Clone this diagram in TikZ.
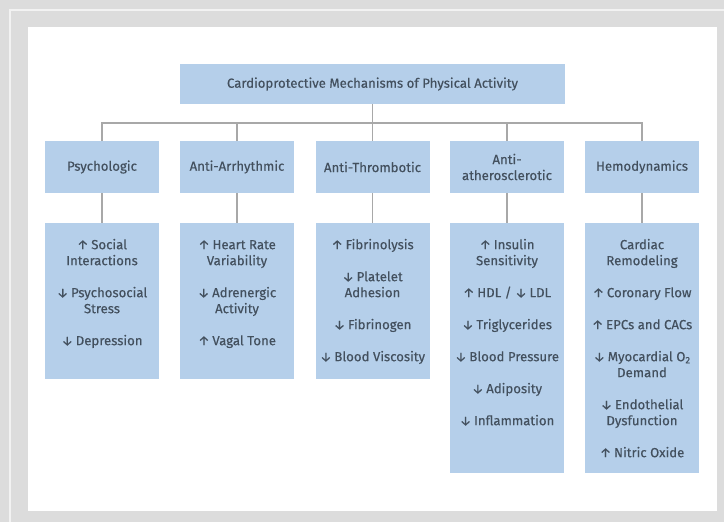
\documentclass[tikz,border=0pt]{standalone}
\usepackage{fontspec}
\setmainfont{Fira Sans}[FakeBold=0.35]
\definecolor{bg}{HTML}{DCDCDC}
\definecolor{frameline}{HTML}{F2F2F2}
\definecolor{boxblue}{HTML}{B5CFEA}
\definecolor{txt}{HTML}{43505E}
\definecolor{linegray}{HTML}{A8A8A8}
\newcommand{\inc}{↑\kern2.5pt}
\newcommand{\dec}{↓\kern2.5pt}
\begin{document}
\begin{tikzpicture}[x=1pt,y=-1pt,
  box/.style={fill=boxblue, draw=none, text=txt, inner sep=0pt, align=center, font=\fontsize{13.2}{16}\selectfont},
  catbox/.style={box, minimum width=114pt, minimum height=52pt},
  link/.style={draw=linegray, line width=1.5pt}]
\useasboundingbox (0,0) rectangle (724,522);
\fill[bg] (0,0) rectangle (724,522);
\draw[frameline, line width=2pt] (10,522) -- (10,10) -- (724,10);
\fill[white] (28,27) rectangle (717,511);

\node[box, minimum width=385pt, minimum height=40pt] (title) at (372.5,84) {Cardioprotective Mechanisms of Physical Activity};

\node[catbox] (c1) at (102,167) {Psychologic};
\node[catbox] (c2) at (237,167) {Anti-Arrhythmic};
\node[catbox] (c3) at (372.5,167) {Anti-Thrombotic};
\node[catbox] (c4) at (507,167) {Anti-\\atherosclerotic};
\node[catbox] (c5) at (642,167) {Hemodynamics};

\node[box, anchor=north] (d1) at (102,223) {\parbox[t][156pt][t]{114pt}{\centering\rule{0pt}{26pt}\inc Social\\ Interactions\\[16pt] \dec Psychosocial\\ Stress\\[16pt] \dec Depression}};
\node[box, anchor=north] (d2) at (237,223) {\parbox[t][156pt][t]{114pt}{\centering\rule{0pt}{26pt}\inc Heart Rate\\ Variability\\[16pt] \dec Adrenergic\\ Activity\\[16pt] \inc Vagal Tone}};
\node[box, anchor=north] (d3) at (372.5,223) {\parbox[t][156pt][t]{114pt}{\centering\rule{0pt}{26pt}\inc Fibrinolysis\\[16pt] \dec Platelet\\ Adhesion\\[16pt] \dec Fibrinogen\\[16pt] \dec Blood Viscosity}};
\node[box, anchor=north] (d4) at (507,223) {\parbox[t][250pt][t]{114pt}{\centering\rule{0pt}{26pt}\inc Insulin\\ Sensitivity\\[16pt] \inc HDL / \dec LDL\\[16pt] \dec Triglycerides\\[16pt] \dec Blood Pressure\\[16pt] \dec Adiposity\\[16pt] \dec Inflammation}};
\node[box, anchor=north] (d5) at (642,223) {\parbox[t][250pt][t]{114pt}{\centering\rule{0pt}{26pt}Cardiac\\ Remodeling\\[16pt] \inc Coronary Flow\\[16pt] \inc EPCs and CACs\\[16pt] \dec Myocardial O\textsubscript{2}\\ Demand\\[16pt] \dec Endothelial\\ Dysfunction\\[16pt] \inc Nitric Oxide}};

\coordinate (bus) at (0,123);
\draw[link] (title.south) -- (title.south |- bus);
\draw[link] (c1.north) -- (c1.north |- bus) -- (c5.north |- bus) -- (c5.north);
\draw[link] (c2.north) -- (c2.north |- bus);
\draw[link] (c3.north) -- (c3.north |- bus);
\draw[link] (c4.north) -- (c4.north |- bus);
\foreach \i in {1,...,5} \draw[link] (c\i.south) -- (d\i.north);
\end{tikzpicture}
\end{document}
